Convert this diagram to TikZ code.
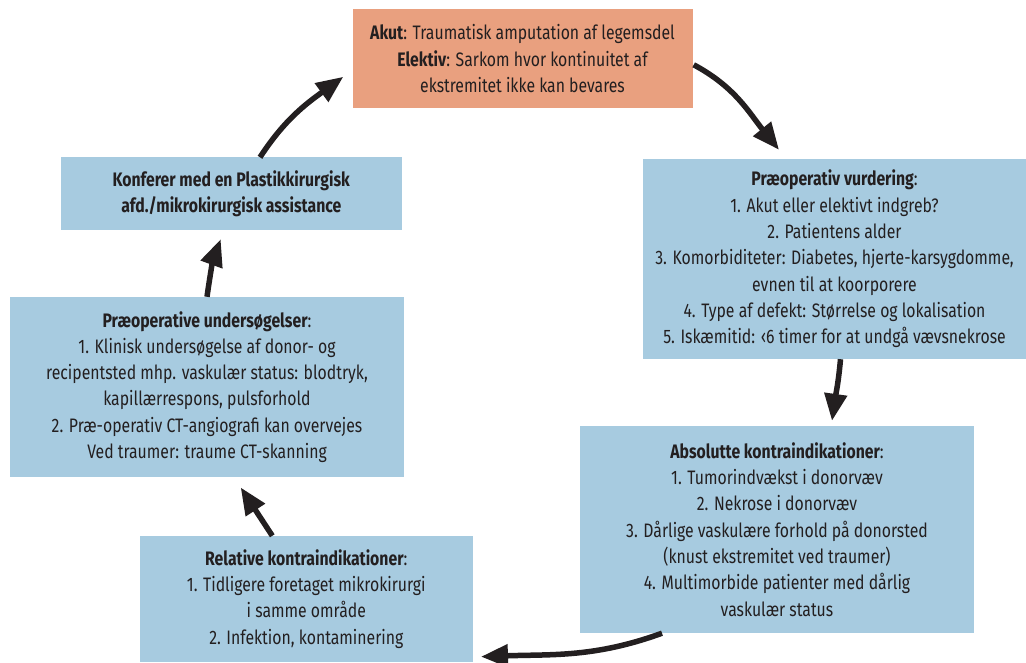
\documentclass[tikz,border=0pt]{standalone}
\usepackage{fontspec}
\setmainfont{Fira Sans}[FakeStretch=0.81]
\usetikzlibrary{arrows.meta}
\definecolor{boxblue}{RGB}{167,203,224}
\definecolor{boxorange}{RGB}{233,160,127}
\definecolor{ink}{RGB}{35,31,32}
\tikzset{
  box/.style={fill=boxblue, draw=none, align=center, inner sep=0pt, text=ink,
    font=\fontsize{19.5}{26.3}\selectfont},
  topbox/.style={box, fill=boxorange},
  arr/.style={draw=ink, line width=5.5pt, -{Triangle[length=27pt,width=22pt]}}
}
\begin{document}
\begin{tikzpicture}[x=1pt,y=1pt]
\useasboundingbox (0,0) rectangle (1026,662);
\node[topbox, minimum width=340pt, minimum height=99pt] (top) at (522.5,603.2)
  {\textbf{Akut}: Traumatisk amputation af legemsdel\\
   \textbf{Elektiv}: Sarkom hvor kontinuitet af\\
   ekstremitet ikke kan bevares};
\node[box, minimum width=383pt, minimum height=200pt] (pv) at (834.5,403)
  {\textbf{Præoperativ vurdering}:\\
   1. Akut eller elektivt indgreb?\\
   2. Patientens alder\\
   3. Komorbiditeter: Diabetes, hjerte-karsygdomme,\\
   evnen til at koorporere\\
   4. Type af defekt: Størrelse og lokalisation\\
   5. Iskæmitid: ‹6 timer for at undgå vævsnekrose};
\node[box, minimum width=394pt, minimum height=207pt] (abs) at (777,132.5)
  {\textbf{Absolutte kontraindikationer}:\\
   1. Tumorindvækst i donorvæv\\
   2. Nekrose i donorvæv\\
   3. Dårlige vaskulære forhold på donorsted\\
   (knust ekstremitet ved traumer)\\
   4. Multimorbide patienter med dårlig\\
   vaskulær status};
\node[box, minimum width=333pt, minimum height=126pt] (rel) at (306.3,63)
  {\textbf{Relative kontraindikationer}:\\
   1. Tidligere foretaget mikrokirurgi\\
   i samme område\\
   2. Infektion, kontaminering};
\node[box, minimum width=394pt, minimum height=180pt] (pu) at (207,275)
  {\textbf{Præoperative undersøgelser}:\\
   1. Klinisk undersøgelse af donor- og\\
   recipentsted mhp. vaskulær status: blodtryk,\\
   kapillærrespons, pulsforhold\\
   2. Præ-operativ CT-angiografi kan overvejes\\
   Ved traumer: traume CT-skanning};
\node[box, minimum width=341pt, minimum height=73pt] (konf) at (231.3,468)
  {\textbf{Konferer med en Plastikkirurgisk}\\
   \textbf{afd./mikrokirurgisk assistance}};
\draw[arr] ([xshift=1pt,yshift=-6pt]top.east) to[out=-28,in=129] ([xshift=-55.5pt,yshift=9pt]pv.north);
\draw[arr] ([xshift=6pt]pv.south) to[out=-95,in=82] ([xshift=55pt,yshift=5pt]abs.north);
\draw[arr] ([xshift=-115pt]abs.south) to[out=-160,in=2] ([xshift=8pt,yshift=-57.7pt]rel.east);
\draw[arr] ([xshift=-34pt]rel.north) -- ([xshift=33.7pt,yshift=-10.3pt]pu.south);
\draw[arr] (pu.north) to[out=82,in=250] ([xshift=-10.6pt,yshift=-8.5pt]konf.south);
\draw[arr] ([xshift=28.7pt]konf.north) to[out=57,in=216] ([xshift=-9pt,yshift=-18pt]top.west);
\end{tikzpicture}
\end{document}
